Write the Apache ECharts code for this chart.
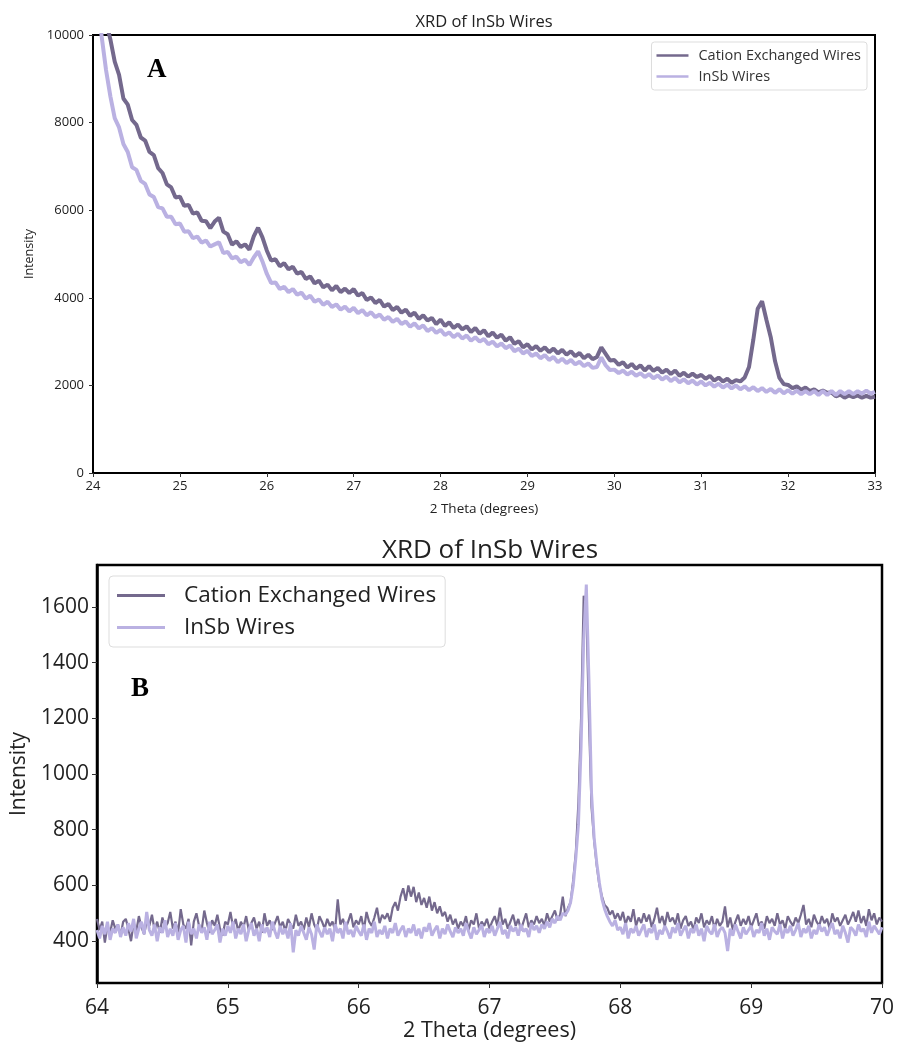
<!DOCTYPE html>
<html><head><meta charset="utf-8">
<script src="https://cdn.jsdelivr.net/npm/echarts@6/dist/echarts.min.js"></script>
<style>html,body{margin:0;padding:0;background:#fff}#c{width:898px;height:1043px}</style>
</head><body><div id="c"></div>
<script>
const FONT = '"Open Sans", Lato, sans-serif';
const seriesNames = ['Cation Exchanged Wires', 'InSb Wires'];
const titleText = 'XRD of InSb Wires';
const xName = '2 Theta (degrees)';
const yName = 'Intensity';

// Panel A: 2θ from 24 to 33, sampled every 0.05
const topX0 = 24, topStep = 0.05;
const topDark = [
13000, 12000, 11000, 10300, 9900, 9390, 9090, 8550, 8410, 8060,
7950, 7660, 7590, 7330, 7260, 6960, 6850, 6590, 6520, 6290,
6310, 6100, 6120, 5920, 5950, 5760, 5750, 5590, 5740, 5830,
5510, 5450, 5210, 5290, 5160, 5220, 5100, 5400, 5600, 5380,
5080, 4850, 4880, 4720, 4790, 4650, 4710, 4550, 4590, 4430,
4490, 4330, 4390, 4240, 4300, 4170, 4270, 4130, 4210, 4110,
4200, 4050, 4110, 3950, 4010, 3880, 3950, 3800, 3860, 3720,
3790, 3660, 3730, 3590, 3660, 3520, 3600, 3480, 3540, 3400,
3500, 3360, 3440, 3310, 3390, 3280, 3350, 3220, 3310, 3180,
3260, 3120, 3210, 3090, 3160, 3020, 3100, 2950, 3010, 2870,
2940, 2820, 2900, 2790, 2870, 2760, 2840, 2730, 2810, 2700,
2780, 2670, 2740, 2620, 2700, 2600, 2650, 2870, 2720, 2570,
2580, 2470, 2530, 2410, 2490, 2380, 2460, 2340, 2440, 2330,
2400, 2290, 2360, 2260, 2340, 2220, 2290, 2200, 2270, 2190,
2240, 2150, 2220, 2110, 2180, 2090, 2150, 2060, 2120, 2090,
2180, 2420, 3050, 3750, 3920, 3500, 3100, 2550, 2170, 2030,
2010, 1940, 1980, 1900, 1950, 1870, 1910, 1840, 1880, 1830,
1840, 1750, 1790, 1720, 1770, 1730, 1770, 1720, 1760, 1720,
1740
];
const topLight = [
11800, 10900, 9960, 9200, 8600, 8100, 7890, 7510, 7330, 6980,
6920, 6670, 6600, 6360, 6300, 6070, 6040, 5850, 5850, 5680,
5700, 5510, 5520, 5360, 5400, 5260, 5310, 5170, 5220, 5270,
5020, 5050, 4900, 4940, 4810, 4870, 4750, 4920, 5060, 4830,
4550, 4340, 4350, 4200, 4250, 4130, 4200, 4070, 4120, 3980,
4050, 3910, 3960, 3840, 3910, 3790, 3850, 3730, 3800, 3690,
3770, 3650, 3720, 3600, 3670, 3560, 3620, 3500, 3560, 3450,
3520, 3400, 3460, 3340, 3420, 3300, 3370, 3240, 3310, 3200,
3270, 3150, 3210, 3100, 3180, 3070, 3140, 3020, 3100, 3000,
3060, 2940, 3000, 2890, 2960, 2850, 2910, 2780, 2840, 2730,
2790, 2670, 2730, 2620, 2690, 2580, 2650, 2530, 2610, 2510,
2580, 2480, 2540, 2440, 2500, 2400, 2420, 2640, 2460, 2350,
2360, 2280, 2340, 2250, 2310, 2220, 2280, 2190, 2260, 2160,
2230, 2130, 2200, 2100, 2170, 2070, 2140, 2050, 2110, 2020,
2090, 2000, 2060, 1970, 2040, 1950, 2020, 1930, 2000, 1910,
1980, 1890, 1960, 1870, 1940, 1850, 1920, 1830, 1910, 1820,
1890, 1810, 1880, 1800, 1870, 1800, 1870, 1780, 1870, 1780,
1870, 1780, 1870, 1800, 1870, 1800, 1870, 1810, 1880, 1810,
1850
];

// Panel B: 2θ from 64 to 70, sampled every 0.02
const botX0 = 64, botStep = 0.02;
const botDark = [
480, 440, 470, 395, 455, 430, 475, 445, 460, 420,
470, 480, 445, 400, 465, 435, 490, 450, 425, 470,
455, 495, 440, 470, 430, 485, 450, 465, 505, 445,
470, 430, 515, 460, 445, 480, 385, 470, 500, 455,
440, 510, 465, 430, 475, 455, 495, 445, 420, 470,
460, 505, 450, 480, 435, 470, 450, 490, 440, 465,
485, 445, 470, 430, 500, 455, 475, 440, 465, 490,
450, 470, 435, 480, 460, 445, 495, 455, 470, 440,
485, 450, 500, 460, 440, 490, 470, 445, 480, 455,
470, 440, 550, 460, 480, 445, 470, 500, 450, 475,
460, 490, 440, 505, 470, 455, 485, 520, 465, 495,
480, 500, 470, 520, 540, 510, 560, 590, 545, 600,
560, 595, 540, 575, 530, 555, 520, 560, 510, 540,
500, 525, 490, 505, 470, 495, 460, 480, 445, 470,
455, 490, 440, 475, 460, 500, 445, 470, 455, 480,
445, 470, 490, 455, 520, 460, 480, 445, 470, 495,
455, 480, 440, 470, 500, 450, 475, 460, 490, 465,
480, 455, 500, 470, 490, 510, 475, 495, 560, 490,
520, 540, 620, 720, 900, 1200, 1640, 1600, 1200, 880,
760, 670, 600, 560, 530, 520, 495, 510, 480, 500,
475, 505, 460, 490, 470, 515, 455, 485, 465, 500,
470, 495, 450, 480, 520, 465, 490, 455, 505, 470,
485, 460, 500, 445, 475, 490, 455, 470, 440, 485,
465, 500, 450, 475, 460, 490, 445, 480, 455, 470,
525, 450, 485, 440, 470, 495, 455, 480, 460, 490,
450, 475, 500, 455, 470, 445, 490, 465, 480, 455,
500, 460, 475, 445, 490, 470, 455, 485, 465, 495,
530, 460, 480, 450, 495, 470, 455, 490, 465, 480,
445, 500, 470, 485, 455, 475, 495, 460, 480, 505,
470, 510, 465, 490, 455, 515, 475, 500, 460, 485,
470
];
const botLight = [
440, 410, 455, 425, 470, 405, 445, 430, 460, 415,
450, 420, 465, 435, 480, 410, 445, 470, 425, 505,
440, 420, 460, 400, 450, 430, 475, 415, 445, 420,
465, 405, 440, 455, 395, 470, 425, 445, 410, 460,
430, 450, 405, 470, 425, 440, 460, 395, 445, 420,
455, 430, 470, 410, 445, 425, 460, 400, 440, 465,
420, 445, 400, 460, 430, 450, 415, 470, 435, 410,
455, 425, 445, 410, 465, 360, 440, 420, 455, 430,
405, 450, 425, 370, 460, 435, 415, 450, 425, 445,
400, 460, 430, 445, 410, 470, 425, 440, 415, 455,
435, 420, 460, 405, 445, 430, 470, 415, 440, 425,
455, 410, 445, 430, 465, 420, 440, 455, 415, 445,
430, 460, 420, 445, 410, 450, 435, 465, 420, 440,
455, 410, 445, 425, 460, 435, 415, 450, 430, 445,
420, 465, 435, 410, 450, 425, 440, 460, 415, 445,
430, 455, 420, 445, 470, 425, 440, 410, 455, 435,
450, 420, 460, 435, 445, 415, 465, 440, 455, 430,
460, 445, 470, 450, 480, 465, 490, 475, 500, 495,
510, 540, 600, 700, 820, 1100, 1480, 1680, 1340, 930,
770, 680, 610, 550, 515, 490, 470, 455, 475, 440,
450, 425, 465, 410, 445, 430, 455, 420, 440, 460,
415, 445, 430, 460, 405, 440, 425, 455, 435, 410,
450, 430, 465, 420, 440, 455, 410, 445, 430, 460,
420, 445, 400, 455, 435, 425, 460, 415, 440, 450,
430, 365, 445, 420, 460, 435, 410, 450, 425, 440,
455, 415, 440, 430, 465, 420, 445, 405, 450, 435,
425, 460, 410, 445, 430, 455, 420, 440, 465, 415,
445, 430, 455, 410, 440, 425, 460, 435, 450, 420,
445, 465, 425, 440, 410, 455, 430, 395, 450, 440,
420, 460, 435, 445, 415, 470, 430, 455, 440, 425,
450
];

const topYTicks = [0, 2000, 4000, 6000, 8000, 10000];
const botYTicks = [400, 600, 800, 1000, 1200, 1400, 1600];

const DARK = '#74698d';
const LIGHT = '#bab1e2';

function pairs(x0, step, arr) {
  return arr.map((v, i) => [+(x0 + step * i).toFixed(3), v]);
}
const plain = v => String(v);

const chart = echarts.init(document.getElementById('c'), null, {renderer: 'canvas'});

function xAxisCfg(gi, min, max, fs, nfs, gap, margin, tickLen) {
  return {
    gridIndex: gi, type: 'value', min: min, max: max, interval: 1,
    axisLine: {show: true, onZero: false, lineStyle: {color: '#000', width: 2}},
    axisTick: {show: true, length: tickLen, lineStyle: {color: '#333', width: 1}},
    axisLabel: {fontFamily: FONT, fontSize: fs, color: '#222', margin: margin, formatter: plain},
    splitLine: {show: false},
    name: xName, nameLocation: 'middle', nameGap: gap,
    nameTextStyle: {fontFamily: FONT, fontSize: nfs, color: '#222'}
  };
}

const option = {
  animation: false,
  backgroundColor: '#fff',
  title: [
    {text: titleText, left: 484, top: 14, textAlign: 'center', padding: 0,
     textStyle: {fontFamily: FONT, fontSize: 16.5, fontWeight: 'normal', color: '#222'}},
    {text: titleText, left: 490, top: 538, textAlign: 'center', padding: 0,
     textStyle: {fontFamily: FONT, fontSize: 26, fontWeight: 'normal', color: '#222'}}
  ],
  legend: [
    {data: seriesNames, orient: 'vertical', right: 31, top: 42,
     icon: 'rect', itemWidth: 32, itemHeight: 2.5, itemGap: 6,
     backgroundColor: '#fff', borderColor: '#ddd', borderWidth: 1, borderRadius: 3,
     padding: [6, 6, 6, 5],
     textStyle: {fontFamily: FONT, fontSize: 14.5, color: '#333', padding: [0, 0, 0, 5]}},
    {data: seriesNames, orient: 'vertical', left: 109, top: 576,
     icon: 'rect', itemWidth: 48, itemHeight: 3, itemGap: 9,
     backgroundColor: '#fff', borderColor: '#ddd', borderWidth: 1, borderRadius: 4,
     padding: [8, 9, 8, 8],
     textStyle: {fontFamily: FONT, fontSize: 22.5, color: '#222', padding: [0, 0, 0, 14]}}
  ],
  grid: [
    {left: 93, top: 35, width: 782, height: 438, show: true, borderColor: '#000', borderWidth: 2, backgroundColor: 'transparent'},
    {left: 97, top: 565, width: 785, height: 418, show: true, borderColor: '#000', borderWidth: 2.5, backgroundColor: 'transparent'}
  ],
  xAxis: [
    xAxisCfg(0, 24, 33, 13, 13.5, 29, 7, 4),
    xAxisCfg(1, 64, 70, 21, 21.5, 37, 15, 5)
  ],
  yAxis: [
    {gridIndex: 0, type: 'value', min: 0, max: 10000, interval: 2000,
     axisLine: {show: true, lineStyle: {color: '#000', width: 2}},
     axisTick: {show: true, length: 4, lineStyle: {color: '#333'}},
     axisLabel: {fontFamily: FONT, fontSize: 13, color: '#222', margin: 9, formatter: plain},
     splitLine: {show: false},
     name: yName, nameLocation: 'middle', nameGap: 57,
     nameTextStyle: {fontFamily: FONT, fontSize: 12.5, color: '#222'}},
    {gridIndex: 1, type: 'value', min: 250, max: 1750,
     axisLine: {show: true, lineStyle: {color: '#000', width: 2.5}},
     axisTick: {show: true, length: 5, lineStyle: {color: '#333'}, customValues: botYTicks},
     axisLabel: {fontFamily: FONT, fontSize: 21, color: '#222', margin: 8, customValues: botYTicks, formatter: plain},
     splitLine: {show: false},
     name: yName, nameLocation: 'middle', nameGap: 67,
     nameTextStyle: {fontFamily: FONT, fontSize: 21, color: '#222'}}
  ],
  graphic: [
    {type: 'text', left: 147, top: 57, style: {text: 'A', font: 'bold 27px "Liberation Serif", "DejaVu Serif", serif', fill: '#000'}},
    {type: 'text', left: 131, top: 676, style: {text: 'B', font: 'bold 27px "Liberation Serif", "DejaVu Serif", serif', fill: '#000'}}
  ],
  series: [
    {name: seriesNames[0], type: 'line', xAxisIndex: 0, yAxisIndex: 0, symbol: 'none', clip: true,
     lineStyle: {color: DARK, width: 4}, itemStyle: {color: DARK}, data: pairs(topX0, topStep, topDark)},
    {name: seriesNames[1], type: 'line', xAxisIndex: 0, yAxisIndex: 0, symbol: 'none', clip: true,
     lineStyle: {color: LIGHT, width: 4}, itemStyle: {color: LIGHT}, data: pairs(topX0, topStep, topLight)},
    {name: seriesNames[0], type: 'line', xAxisIndex: 1, yAxisIndex: 1, symbol: 'none', clip: true,
     lineStyle: {color: DARK, width: 2.2}, itemStyle: {color: DARK}, data: pairs(botX0, botStep, botDark)},
    {name: seriesNames[1], type: 'line', xAxisIndex: 1, yAxisIndex: 1, symbol: 'none', clip: true,
     lineStyle: {color: LIGHT, width: 3}, itemStyle: {color: LIGHT}, data: pairs(botX0, botStep, botLight)}
  ]
};
chart.setOption(option);
</script>
</body></html>
